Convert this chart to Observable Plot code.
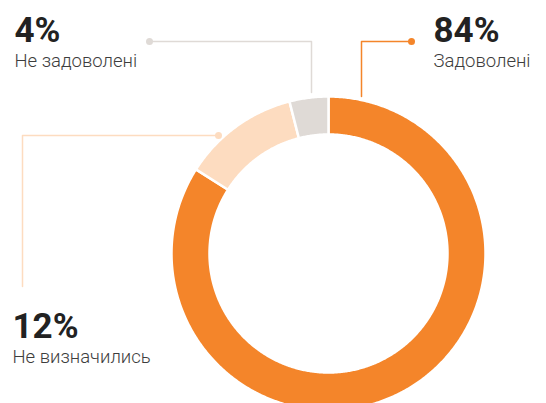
<!DOCTYPE html>
<html>
<head>
<meta charset="utf-8">
<script src="https://cdn.jsdelivr.net/npm/d3@7"></script>
<script src="https://cdn.jsdelivr.net/npm/@observablehq/plot@0.6"></script>
<style>
  html, body { margin: 0; padding: 0; background: #fff; overflow: hidden; }
  #chart svg { display: block; }
</style>
</head>
<body>
<div id="chart"></div>
<script>
// ---- data ----
const categories = ["Задоволені", "Не визначились", "Не задоволені"];
const shares = [84, 12, 4];
const percentLabels = ["84%", "12%", "4%"];
const colors = ["#f4852a", "#fddcc0", "#dfdad6"];

// ---- layout (pixels) ----
const W = 546, H = 403;
const cx = 328, cy = 253, rOuter = 157, rInner = 119;
const leaders = [
  { path: [[411, 41], [361, 41], [361, 96]], text: [433, 41] },
  { path: [[218, 135], [22, 135], [22, 286]], text: [12, 337] },
  { path: [[149, 41], [311, 41], [311, 92]], text: [14, 41] }
];

// ---- build slices from the values ----
const total = d3.sum(shares);
const slicePts = [];
let cum = 0;
shares.forEach((v, i) => {
  const a0 = cum / total * 2 * Math.PI;
  cum += v;
  const a1 = cum / total * 2 * Math.PI;
  const n = Math.max(8, Math.ceil((a1 - a0) / (Math.PI / 360)));
  const pts = [];
  for (let k = 0; k <= n; k++) {
    const a = a0 + (a1 - a0) * k / n;
    pts.push([cx + rOuter * Math.sin(a), cy - rOuter * Math.cos(a)]);
  }
  for (let k = n; k >= 0; k--) {
    const a = a0 + (a1 - a0) * k / n;
    pts.push([cx + rInner * Math.sin(a), cy - rInner * Math.cos(a)]);
  }
  pts.forEach(p => slicePts.push({ key: categories[i], color: colors[i], x: p[0], y: p[1] }));
});

const leaderPts = [];
leaders.forEach((l, i) => l.path.forEach(p => leaderPts.push({ key: categories[i], color: colors[i], x: p[0], y: p[1] })));
const dots = leaders.map((l, i) => ({ color: colors[i], x: l.path[0][0], y: l.path[0][1] }));
const numbers = leaders.map((l, i) => ({ t: percentLabels[i], x: l.text[0], y: l.text[1] }));
const names = leaders.map((l, i) => ({ t: categories[i], x: l.text[0], y: l.text[1] + 25 }));

const chart = Plot.plot({
  width: W, height: H,
  margin: 0,
  x: { domain: [0, W], range: [0, W], axis: null },
  y: { domain: [0, H], range: [0, H], axis: null },
  color: { type: "identity" },
  style: { fontFamily: "Roboto, sans-serif", background: "#fff" },
  marks: [
    Plot.line(slicePts, { x: "x", y: "y", z: "key", fill: "color", stroke: "white", strokeWidth: 2.5, curve: "linear-closed" }),
    Plot.line(leaderPts, { x: "x", y: "y", z: "key", stroke: "color", strokeWidth: 1.5, curve: "linear" }),
    Plot.dot(dots, { x: "x", y: "y", r: 3.5, fill: "color", stroke: null }),
    Plot.text(numbers, { x: "x", y: "y", text: "t", textAnchor: "start", lineAnchor: "bottom", fontSize: 35, fontWeight: 700, fill: "#222222" }),
    Plot.text(names, { x: "x", y: "y", text: "t", textAnchor: "start", lineAnchor: "bottom", fontSize: 18.5, fontWeight: 300, fill: "#3d3d3d" })
  ]
});
document.getElementById("chart").appendChild(chart);
</script>
</body>
</html>
